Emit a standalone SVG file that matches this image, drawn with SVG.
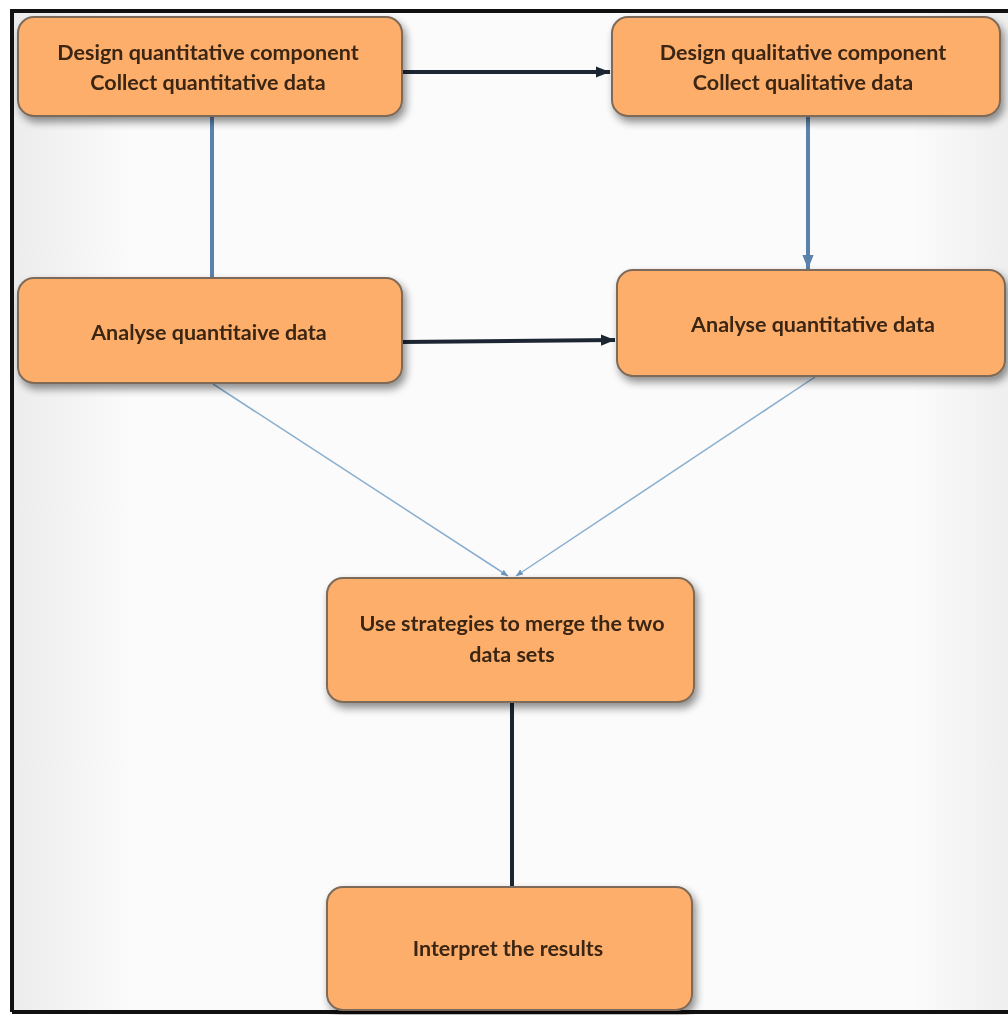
<svg xmlns="http://www.w3.org/2000/svg" width="1008" height="1015" viewBox="0 0 1008 1015">
<defs>
<style>
.box{fill:#fdae6b;stroke:#7d6a58;stroke-width:2}
.t{font-family:Lato,"Liberation Sans",sans-serif;font-size:21.5px;font-weight:bold;fill:#3b2612;text-anchor:middle}
.dark{stroke:#1c2633;stroke-width:4;fill:none}
.blue{stroke:#5a82aa;stroke-width:4;fill:none}
.thin{stroke:#8aaed0;stroke-width:1.5;fill:none}
</style>
<linearGradient id="bg" x1="0" y1="0" x2="1" y2="0">
<stop offset="0" stop-color="#ececec"/><stop offset="0.12" stop-color="#fbfbfb"/><stop offset="0.9" stop-color="#fbfbfb"/><stop offset="1" stop-color="#eeeeee"/>
</linearGradient>
<filter id="sh" x="-10%" y="-10%" width="130%" height="140%">
<feGaussianBlur in="SourceAlpha" stdDeviation="4"/>
<feOffset dx="3" dy="5" result="b"/>
<feComponentTransfer><feFuncA type="linear" slope="0.45"/></feComponentTransfer>
<feMerge><feMergeNode/><feMergeNode in="SourceGraphic"/></feMerge>
</filter>
<marker id="ad" markerWidth="4" markerHeight="4" refX="3.5" refY="2" orient="auto" markerUnits="strokeWidth"><path d="M0,0.6 L3.5,2 L0,3.4 z" fill="#1c2633"/></marker>
<marker id="ab" markerWidth="4" markerHeight="4" refX="3.5" refY="2" orient="auto" markerUnits="strokeWidth"><path d="M0,0.6 L3.5,2 L0,3.4 z" fill="#5a82aa"/></marker>
<marker id="at" markerWidth="8" markerHeight="8" refX="7" refY="4" orient="auto" markerUnits="userSpaceOnUse"><path d="M0,1 L7,4 L0,7 z" fill="#6d94bd"/></marker>
</defs>
<rect x="0" y="0" width="1008" height="1015" fill="#ffffff"/>
<rect x="12" y="11" width="1000" height="1001" fill="url(#bg)"/>
<path d="M12,1012 L12,11 L1008,11" fill="none" stroke="#111" stroke-width="4"/>
<path d="M12,1012 L1008,1012" fill="none" stroke="#111" stroke-width="4"/>
<g id="connectors">
<line class="dark" x1="402" y1="72" x2="610" y2="72" marker-end="url(#ad)"/>
<line class="blue" x1="212" y1="116" x2="212" y2="278"/>
<line class="blue" x1="808" y1="116" x2="808" y2="269" marker-end="url(#ab)"/>
<line class="dark" x1="402" y1="342" x2="615" y2="340" marker-end="url(#ad)"/>
<line class="thin" x1="213" y1="384" x2="508" y2="576" marker-end="url(#at)"/>
<line class="thin" x1="815" y1="377" x2="516" y2="576" marker-end="url(#at)"/>
<line class="dark" x1="512" y1="702" x2="512" y2="886"/>
</g>
<g id="n1" filter="url(#sh)"><rect class="box" x="18" y="17" width="384" height="99" rx="16"/>
<text class="t" x="208" y="60">Design quantitative component</text><text class="t" x="208" y="90">Collect quantitative data</text></g>
<g id="n2" filter="url(#sh)"><rect class="box" x="612" y="17" width="388" height="99" rx="16"/>
<text class="t" x="803" y="60">Design qualitative component</text><text class="t" x="803" y="90">Collect qualitative data</text></g>
<g id="n3" filter="url(#sh)"><rect class="box" x="18" y="278" width="384" height="105" rx="16"/>
<text class="t" x="209" y="340">Analyse quantitaive data</text></g>
<g id="n4" filter="url(#sh)"><rect class="box" x="617" y="270" width="388" height="106" rx="16"/>
<text class="t" x="813" y="332">Analyse quantitative data</text></g>
<g id="n5" filter="url(#sh)"><rect class="box" x="327" y="578" width="367" height="124" rx="16"/>
<text class="t" x="512" y="631">Use strategies to merge the two</text><text class="t" x="512" y="662">data sets</text></g>
<g id="n6" filter="url(#sh)"><rect class="box" x="327" y="887" width="365" height="123" rx="16"/>
<text class="t" x="508" y="956">Interpret the results</text></g>
</svg>
